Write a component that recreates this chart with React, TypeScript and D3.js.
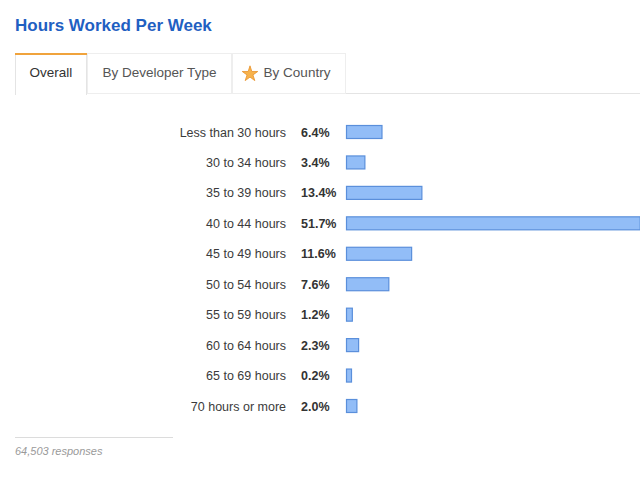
import React from "react";
import * as d3 from "d3";

const categories = [
  "Less than 30 hours",
  "30 to 34 hours",
  "35 to 39 hours",
  "40 to 44 hours",
  "45 to 49 hours",
  "50 to 54 hours",
  "55 to 59 hours",
  "60 to 64 hours",
  "65 to 69 hours",
  "70 hours or more",
];
const percents = [6.4, 3.4, 13.4, 51.7, 11.6, 7.6, 1.2, 2.3, 0.2, 2.0];
const tabs = ["Overall", "By Developer Type", "By Country"];
const title = "Hours Worked Per Week";
const footer = "64,503 responses";

export default function App() {
  const W = 640, H = 482;
  const x = d3.scaleLinear().domain([0, 100]).range([0, 570]);
  const y = d3.scalePoint<string>().domain(categories).range([132, 406]);
  const barX = 346;
  const barH = 14;
  const font = "'Liberation Sans', Arial, Helvetica, sans-serif";
  const tabEdges = [15, 87, 232, 346];
  return (
    <svg width={W} height={H} style={{ position: "absolute", left: 0, top: 0, background: "#fff" }} fontFamily={font}>
      <rect width={W} height={H} fill="#fff" />
      <text x={15} y={31} fontSize={17} fontWeight="bold" fill="#1f60c2">{title}</text>
      {/* tabs */}
      <line x1={15} x2={640} y1={93.5} y2={93.5} stroke="#e4e4e4" />
      {tabs.map((t, i) => {
        const x0 = tabEdges[i], x1 = tabEdges[i + 1];
        const active = i === 0;
        return (
          <g key={t}>
            <rect x={x0 + 0.5} y={53.5} width={x1 - x0 - 1} height={active ? 41 : 40}
              fill="#fff" stroke={active ? "#e4e4e4" : "#eeeeee"} />
            {active && <rect x={x0} y={53} width={x1 - x0} height={2} fill="#f0a33c" />}
            {active && <rect x={x0 + 1} y={93} width={x1 - x0 - 2} height={2} fill="#fff" />}
            {i === 2 && (
              <path
                d={d3.symbol(d3.symbolStar, 75)() || ""}
                transform="translate(250,74)"
                fill="#f7b24c" stroke="#e8922a" strokeWidth={0.8}
              />
            )}
            <text x={i === 2 ? (x0 + x1) / 2 + 8 : (x0 + x1) / 2} y={77} fontSize={13.5}
              textAnchor="middle" fill={active ? "#333" : "#555"}>{t}</text>
          </g>
        );
      })}
      {/* rows */}
      {categories.map((c, i) => {
        const cy = y(c)!;
        const w = Math.max(x(percents[i]), 6);
        return (
          <g key={c}>
            <text x={286} y={cy + 4.5} fontSize={12.5} textAnchor="end" fill="#3b3b3b">{c}</text>
            <text x={301} y={cy + 4.5} fontSize={12.5} fontWeight="bold" fill="#333">{percents[i].toFixed(1)}%</text>
            <rect x={barX + 0.5} y={cy - barH / 2 + 0.5} width={w - 1} height={barH - 1}
              fill="#92bdf7" stroke="#5a8fdb" strokeWidth={1.2} />
          </g>
        );
      })}
      <line x1={15} x2={173} y1={437.5} y2={437.5} stroke="#dcdcdc" />
      <text x={15} y={455} fontSize={11} fontStyle="italic" fill="#9a9a9a">{footer}</text>
    </svg>
  );
}
